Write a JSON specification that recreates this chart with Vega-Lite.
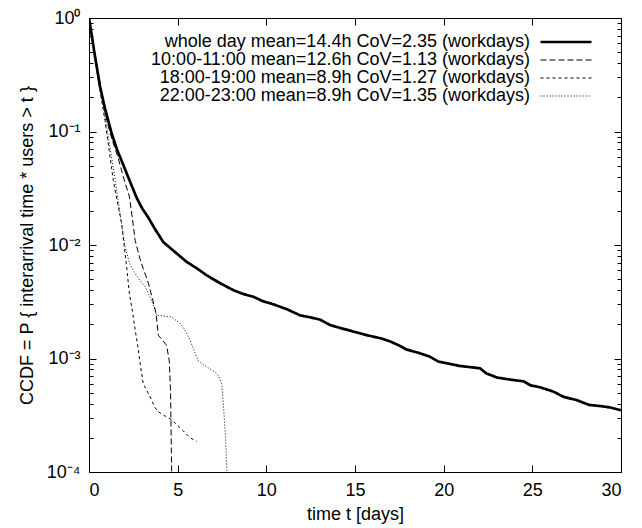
{
  "$schema": "https://vega.github.io/schema/vega-lite/v6.json",
  "width": 532,
  "height": 454,
  "autosize": "none",
  "padding": {"left": 89, "top": 18, "right": 21, "bottom": 56},
  "background": "white",
  "config": {
    "font": "Liberation Sans",
    "view": {"stroke": "black", "strokeWidth": 1},
    "axis": {"grid": false, "labelFont": "Liberation Sans", "titleFont": "Liberation Sans", "labelFontSize": 18, "titleFontSize": 18, "titleFontWeight": "normal", "labelColor": "black", "titleColor": "black", "tickColor": "black", "domainColor": "black", "tickWidth": 1, "domainWidth": 1},
    "legend": {"labelFont": "Liberation Sans", "labelFontSize": 18, "labelColor": "black", "labelLimit": 500}
  },
  "data": {"values": [
    {"series": "whole day mean=14.4h CoV=2.35 (workdays)", "t": 0, "p": 1},
    {"series": "whole day mean=14.4h CoV=2.35 (workdays)", "t": 0.1, "p": 0.8},
    {"series": "whole day mean=14.4h CoV=2.35 (workdays)", "t": 0.3, "p": 0.5},
    {"series": "whole day mean=14.4h CoV=2.35 (workdays)", "t": 0.62, "p": 0.25},
    {"series": "whole day mean=14.4h CoV=2.35 (workdays)", "t": 0.9, "p": 0.16},
    {"series": "whole day mean=14.4h CoV=2.35 (workdays)", "t": 1.28, "p": 0.096},
    {"series": "whole day mean=14.4h CoV=2.35 (workdays)", "t": 1.6, "p": 0.068},
    {"series": "whole day mean=14.4h CoV=2.35 (workdays)", "t": 1.93, "p": 0.051},
    {"series": "whole day mean=14.4h CoV=2.35 (workdays)", "t": 2.2, "p": 0.04},
    {"series": "whole day mean=14.4h CoV=2.35 (workdays)", "t": 2.69, "p": 0.026},
    {"series": "whole day mean=14.4h CoV=2.35 (workdays)", "t": 3.0, "p": 0.021},
    {"series": "whole day mean=14.4h CoV=2.35 (workdays)", "t": 3.34, "p": 0.0175},
    {"series": "whole day mean=14.4h CoV=2.35 (workdays)", "t": 3.7, "p": 0.014},
    {"series": "whole day mean=14.4h CoV=2.35 (workdays)", "t": 3.9, "p": 0.0125},
    {"series": "whole day mean=14.4h CoV=2.35 (workdays)", "t": 4.19, "p": 0.0106},
    {"series": "whole day mean=14.4h CoV=2.35 (workdays)", "t": 4.8, "p": 0.0088},
    {"series": "whole day mean=14.4h CoV=2.35 (workdays)", "t": 5.51, "p": 0.0071},
    {"series": "whole day mean=14.4h CoV=2.35 (workdays)", "t": 6.1, "p": 0.0062},
    {"series": "whole day mean=14.4h CoV=2.35 (workdays)", "t": 6.64, "p": 0.0054},
    {"series": "whole day mean=14.4h CoV=2.35 (workdays)", "t": 7.4, "p": 0.0046},
    {"series": "whole day mean=14.4h CoV=2.35 (workdays)", "t": 8.14, "p": 0.004},
    {"series": "whole day mean=14.4h CoV=2.35 (workdays)", "t": 8.7, "p": 0.0037},
    {"series": "whole day mean=14.4h CoV=2.35 (workdays)", "t": 9.27, "p": 0.0035},
    {"series": "whole day mean=14.4h CoV=2.35 (workdays)", "t": 9.8, "p": 0.0032},
    {"series": "whole day mean=14.4h CoV=2.35 (workdays)", "t": 10.4, "p": 0.003},
    {"series": "whole day mean=14.4h CoV=2.35 (workdays)", "t": 11.2, "p": 0.0027},
    {"series": "whole day mean=14.4h CoV=2.35 (workdays)", "t": 11.9, "p": 0.0024},
    {"series": "whole day mean=14.4h CoV=2.35 (workdays)", "t": 12.5, "p": 0.0023},
    {"series": "whole day mean=14.4h CoV=2.35 (workdays)", "t": 13.03, "p": 0.0022},
    {"series": "whole day mean=14.4h CoV=2.35 (workdays)", "t": 13.6, "p": 0.00197},
    {"series": "whole day mean=14.4h CoV=2.35 (workdays)", "t": 14.2, "p": 0.00185},
    {"series": "whole day mean=14.4h CoV=2.35 (workdays)", "t": 14.9, "p": 0.00173},
    {"series": "whole day mean=14.4h CoV=2.35 (workdays)", "t": 15.7, "p": 0.0016},
    {"series": "whole day mean=14.4h CoV=2.35 (workdays)", "t": 16.5, "p": 0.0015},
    {"series": "whole day mean=14.4h CoV=2.35 (workdays)", "t": 17.0, "p": 0.00141},
    {"series": "whole day mean=14.4h CoV=2.35 (workdays)", "t": 17.5, "p": 0.0013},
    {"series": "whole day mean=14.4h CoV=2.35 (workdays)", "t": 17.9, "p": 0.0012},
    {"series": "whole day mean=14.4h CoV=2.35 (workdays)", "t": 18.6, "p": 0.00112},
    {"series": "whole day mean=14.4h CoV=2.35 (workdays)", "t": 19.2, "p": 0.00104},
    {"series": "whole day mean=14.4h CoV=2.35 (workdays)", "t": 19.7, "p": 0.00094},
    {"series": "whole day mean=14.4h CoV=2.35 (workdays)", "t": 20.3, "p": 0.0009},
    {"series": "whole day mean=14.4h CoV=2.35 (workdays)", "t": 20.9, "p": 0.00086},
    {"series": "whole day mean=14.4h CoV=2.35 (workdays)", "t": 22.05, "p": 0.00082},
    {"series": "whole day mean=14.4h CoV=2.35 (workdays)", "t": 22.4, "p": 0.00074},
    {"series": "whole day mean=14.4h CoV=2.35 (workdays)", "t": 23.0, "p": 0.00068},
    {"series": "whole day mean=14.4h CoV=2.35 (workdays)", "t": 23.8, "p": 0.00065},
    {"series": "whole day mean=14.4h CoV=2.35 (workdays)", "t": 24.5, "p": 0.00063},
    {"series": "whole day mean=14.4h CoV=2.35 (workdays)", "t": 24.9, "p": 0.00058},
    {"series": "whole day mean=14.4h CoV=2.35 (workdays)", "t": 25.4, "p": 0.00056},
    {"series": "whole day mean=14.4h CoV=2.35 (workdays)", "t": 26.2, "p": 0.00051},
    {"series": "whole day mean=14.4h CoV=2.35 (workdays)", "t": 26.75, "p": 0.00046},
    {"series": "whole day mean=14.4h CoV=2.35 (workdays)", "t": 27.5, "p": 0.00043},
    {"series": "whole day mean=14.4h CoV=2.35 (workdays)", "t": 28.2, "p": 0.00039},
    {"series": "whole day mean=14.4h CoV=2.35 (workdays)", "t": 28.9, "p": 0.00038},
    {"series": "whole day mean=14.4h CoV=2.35 (workdays)", "t": 29.4, "p": 0.00037},
    {"series": "whole day mean=14.4h CoV=2.35 (workdays)", "t": 30, "p": 0.00035},
    {"series": "10:00-11:00 mean=12.6h CoV=1.13 (workdays)", "t": 0, "p": 1},
    {"series": "10:00-11:00 mean=12.6h CoV=1.13 (workdays)", "t": 0.3, "p": 0.52},
    {"series": "10:00-11:00 mean=12.6h CoV=1.13 (workdays)", "t": 0.6, "p": 0.28},
    {"series": "10:00-11:00 mean=12.6h CoV=1.13 (workdays)", "t": 1.0, "p": 0.125},
    {"series": "10:00-11:00 mean=12.6h CoV=1.13 (workdays)", "t": 1.3, "p": 0.085},
    {"series": "10:00-11:00 mean=12.6h CoV=1.13 (workdays)", "t": 1.65, "p": 0.058},
    {"series": "10:00-11:00 mean=12.6h CoV=1.13 (workdays)", "t": 1.93, "p": 0.04},
    {"series": "10:00-11:00 mean=12.6h CoV=1.13 (workdays)", "t": 2.27, "p": 0.027},
    {"series": "10:00-11:00 mean=12.6h CoV=1.13 (workdays)", "t": 2.45, "p": 0.017},
    {"series": "10:00-11:00 mean=12.6h CoV=1.13 (workdays)", "t": 2.6, "p": 0.011},
    {"series": "10:00-11:00 mean=12.6h CoV=1.13 (workdays)", "t": 2.88, "p": 0.0075},
    {"series": "10:00-11:00 mean=12.6h CoV=1.13 (workdays)", "t": 3.06, "p": 0.0062},
    {"series": "10:00-11:00 mean=12.6h CoV=1.13 (workdays)", "t": 3.35, "p": 0.0046},
    {"series": "10:00-11:00 mean=12.6h CoV=1.13 (workdays)", "t": 3.55, "p": 0.0035},
    {"series": "10:00-11:00 mean=12.6h CoV=1.13 (workdays)", "t": 3.78, "p": 0.0025},
    {"series": "10:00-11:00 mean=12.6h CoV=1.13 (workdays)", "t": 3.91, "p": 0.0016},
    {"series": "10:00-11:00 mean=12.6h CoV=1.13 (workdays)", "t": 4.15, "p": 0.00145},
    {"series": "10:00-11:00 mean=12.6h CoV=1.13 (workdays)", "t": 4.38, "p": 0.0013},
    {"series": "10:00-11:00 mean=12.6h CoV=1.13 (workdays)", "t": 4.53, "p": 0.00094},
    {"series": "10:00-11:00 mean=12.6h CoV=1.13 (workdays)", "t": 4.6, "p": 0.0005},
    {"series": "10:00-11:00 mean=12.6h CoV=1.13 (workdays)", "t": 4.66, "p": 0.0001},
    {"series": "18:00-19:00 mean=8.9h CoV=1.27 (workdays)", "t": 0, "p": 1},
    {"series": "18:00-19:00 mean=8.9h CoV=1.27 (workdays)", "t": 0.3, "p": 0.48},
    {"series": "18:00-19:00 mean=8.9h CoV=1.27 (workdays)", "t": 0.6, "p": 0.24},
    {"series": "18:00-19:00 mean=8.9h CoV=1.27 (workdays)", "t": 0.9, "p": 0.125},
    {"series": "18:00-19:00 mean=8.9h CoV=1.27 (workdays)", "t": 1.1, "p": 0.075},
    {"series": "18:00-19:00 mean=8.9h CoV=1.27 (workdays)", "t": 1.37, "p": 0.037},
    {"series": "18:00-19:00 mean=8.9h CoV=1.27 (workdays)", "t": 1.6, "p": 0.024},
    {"series": "18:00-19:00 mean=8.9h CoV=1.27 (workdays)", "t": 1.84, "p": 0.0155},
    {"series": "18:00-19:00 mean=8.9h CoV=1.27 (workdays)", "t": 2.12, "p": 0.0065},
    {"series": "18:00-19:00 mean=8.9h CoV=1.27 (workdays)", "t": 2.27, "p": 0.0038},
    {"series": "18:00-19:00 mean=8.9h CoV=1.27 (workdays)", "t": 2.45, "p": 0.0026},
    {"series": "18:00-19:00 mean=8.9h CoV=1.27 (workdays)", "t": 2.6, "p": 0.0018},
    {"series": "18:00-19:00 mean=8.9h CoV=1.27 (workdays)", "t": 2.78, "p": 0.0012},
    {"series": "18:00-19:00 mean=8.9h CoV=1.27 (workdays)", "t": 2.88, "p": 0.00091},
    {"series": "18:00-19:00 mean=8.9h CoV=1.27 (workdays)", "t": 3.06, "p": 0.0006},
    {"series": "18:00-19:00 mean=8.9h CoV=1.27 (workdays)", "t": 3.44, "p": 0.00046},
    {"series": "18:00-19:00 mean=8.9h CoV=1.27 (workdays)", "t": 3.72, "p": 0.00037},
    {"series": "18:00-19:00 mean=8.9h CoV=1.27 (workdays)", "t": 3.9, "p": 0.00034},
    {"series": "18:00-19:00 mean=8.9h CoV=1.27 (workdays)", "t": 4.3, "p": 0.00031},
    {"series": "18:00-19:00 mean=8.9h CoV=1.27 (workdays)", "t": 4.66, "p": 0.00029},
    {"series": "18:00-19:00 mean=8.9h CoV=1.27 (workdays)", "t": 5.32, "p": 0.00023},
    {"series": "18:00-19:00 mean=8.9h CoV=1.27 (workdays)", "t": 5.7, "p": 0.0002},
    {"series": "18:00-19:00 mean=8.9h CoV=1.27 (workdays)", "t": 6.07, "p": 0.000186},
    {"series": "22:00-23:00 mean=8.9h CoV=1.35 (workdays)", "t": 0, "p": 1},
    {"series": "22:00-23:00 mean=8.9h CoV=1.35 (workdays)", "t": 0.3, "p": 0.5},
    {"series": "22:00-23:00 mean=8.9h CoV=1.35 (workdays)", "t": 0.6, "p": 0.26},
    {"series": "22:00-23:00 mean=8.9h CoV=1.35 (workdays)", "t": 0.9, "p": 0.135},
    {"series": "22:00-23:00 mean=8.9h CoV=1.35 (workdays)", "t": 1.2, "p": 0.07},
    {"series": "22:00-23:00 mean=8.9h CoV=1.35 (workdays)", "t": 1.45, "p": 0.04},
    {"series": "22:00-23:00 mean=8.9h CoV=1.35 (workdays)", "t": 1.75, "p": 0.019},
    {"series": "22:00-23:00 mean=8.9h CoV=1.35 (workdays)", "t": 2.03, "p": 0.0097},
    {"series": "22:00-23:00 mean=8.9h CoV=1.35 (workdays)", "t": 2.3, "p": 0.0068},
    {"series": "22:00-23:00 mean=8.9h CoV=1.35 (workdays)", "t": 2.6, "p": 0.0056},
    {"series": "22:00-23:00 mean=8.9h CoV=1.35 (workdays)", "t": 2.9, "p": 0.0048},
    {"series": "22:00-23:00 mean=8.9h CoV=1.35 (workdays)", "t": 3.16, "p": 0.0043},
    {"series": "22:00-23:00 mean=8.9h CoV=1.35 (workdays)", "t": 3.44, "p": 0.0035},
    {"series": "22:00-23:00 mean=8.9h CoV=1.35 (workdays)", "t": 3.65, "p": 0.0029},
    {"series": "22:00-23:00 mean=8.9h CoV=1.35 (workdays)", "t": 3.82, "p": 0.0024},
    {"series": "22:00-23:00 mean=8.9h CoV=1.35 (workdays)", "t": 4.3, "p": 0.00236},
    {"series": "22:00-23:00 mean=8.9h CoV=1.35 (workdays)", "t": 4.66, "p": 0.00232},
    {"series": "22:00-23:00 mean=8.9h CoV=1.35 (workdays)", "t": 5.13, "p": 0.00204},
    {"series": "22:00-23:00 mean=8.9h CoV=1.35 (workdays)", "t": 5.4, "p": 0.0018},
    {"series": "22:00-23:00 mean=8.9h CoV=1.35 (workdays)", "t": 5.7, "p": 0.00145},
    {"series": "22:00-23:00 mean=8.9h CoV=1.35 (workdays)", "t": 6.0, "p": 0.0011},
    {"series": "22:00-23:00 mean=8.9h CoV=1.35 (workdays)", "t": 6.17, "p": 0.00095},
    {"series": "22:00-23:00 mean=8.9h CoV=1.35 (workdays)", "t": 6.6, "p": 0.00085},
    {"series": "22:00-23:00 mean=8.9h CoV=1.35 (workdays)", "t": 7.1, "p": 0.00076},
    {"series": "22:00-23:00 mean=8.9h CoV=1.35 (workdays)", "t": 7.3, "p": 0.0007},
    {"series": "22:00-23:00 mean=8.9h CoV=1.35 (workdays)", "t": 7.48, "p": 0.0006},
    {"series": "22:00-23:00 mean=8.9h CoV=1.35 (workdays)", "t": 7.55, "p": 0.00045},
    {"series": "22:00-23:00 mean=8.9h CoV=1.35 (workdays)", "t": 7.61, "p": 0.00033},
    {"series": "22:00-23:00 mean=8.9h CoV=1.35 (workdays)", "t": 7.7, "p": 0.0002},
    {"series": "22:00-23:00 mean=8.9h CoV=1.35 (workdays)", "t": 7.78, "p": 0.0001}
  ]},
  "layer": [
    {
      "mark": {"type": "line", "clip": true, "color": "black"},
      "encoding": {
        "x": {"field": "t", "type": "quantitative", "scale": {"domain": [0, 30], "nice": false, "zero": false},
          "axis": {"orient": "bottom", "values": [0, 5, 10, 15, 20, 25, 30], "tickSize": -7, "labelPadding": 16, "title": "time t [days]", "titlePadding": 6}},
        "y": {"field": "p", "type": "quantitative", "scale": {"type": "log", "domain": [0.0001, 1], "nice": false},
          "axis": {"orient": "left", "values": [0.0001, 0.001, 0.01, 0.1, 1], "tickSize": -7, "labelPadding": 16,
            "labelExpr": "'10' + ['⁰','⁻¹','⁻²','⁻³','⁻⁴'][round(-log(datum.value)/LN10)]",
            "title": "CCDF = P { interarrival time * users > t }", "titlePadding": 10}},
        "strokeDash": {"field": "series", "type": "nominal",
          "scale": {"domain": ["whole day mean=14.4h CoV=2.35 (workdays)", "10:00-11:00 mean=12.6h CoV=1.13 (workdays)", "18:00-19:00 mean=8.9h CoV=1.27 (workdays)", "22:00-23:00 mean=8.9h CoV=1.35 (workdays)"],
            "range": [[1, 0], [6, 3], [3, 3], [1, 2]]},
          "legend": {"orient": "none", "legendX": 468, "legendY": 15, "title": null, "symbolType": "M-5.1,0H5.1", "symbolSize": 100, "symbolStrokeColor": "black", "symbolFillColor": "transparent", "symbolOpacity": 1, "labelAlign": "right", "labelOffset": -45, "rowPadding": 0, "padding": 0}},
        "strokeWidth": {"field": "series", "type": "nominal",
          "scale": {"type": "ordinal", "domain": ["whole day mean=14.4h CoV=2.35 (workdays)", "10:00-11:00 mean=12.6h CoV=1.13 (workdays)", "18:00-19:00 mean=8.9h CoV=1.27 (workdays)", "22:00-23:00 mean=8.9h CoV=1.35 (workdays)"],
            "range": [2.7, 1, 1, 1]},
          "legend": {"orient": "none", "legendX": 468, "legendY": 15, "title": null, "symbolType": "M-5.1,0H5.1", "symbolSize": 100, "symbolStrokeColor": "black", "symbolFillColor": "transparent", "symbolOpacity": 1, "labelAlign": "right", "labelOffset": -45, "rowPadding": 0, "padding": 0}}
      }
    },
    {
      "mark": {"type": "point", "opacity": 0},
      "encoding": {
        "x": {"field": "t", "type": "quantitative", "axis": {"orient": "top", "values": [5, 10, 15, 20, 25], "tickSize": -7, "labels": false, "title": null}},
        "y": {"field": "p", "type": "quantitative", "axis": {"orient": "right", "values": [0.0001, 0.001, 0.01, 0.1, 1], "tickSize": -7, "labels": false, "title": null}}
      }
    },
    {
      "mark": {"type": "point", "opacity": 0},
      "encoding": {
        "x": {"field": "t", "type": "quantitative", "axis": null},
        "y": {"field": "p", "type": "quantitative", "axis": {"orient": "left", "domain": false, "values": [0.0002, 0.0003, 0.0004, 0.0005, 0.0006, 0.0007, 0.0008, 0.0009, 0.002, 0.003, 0.004, 0.005, 0.006, 0.007, 0.008, 0.009, 0.02, 0.03, 0.04, 0.05, 0.06, 0.07, 0.08, 0.09, 0.2, 0.3, 0.4, 0.5, 0.6, 0.7, 0.8, 0.9], "tickSize": -4, "labels": false, "title": null}}
      }
    },
    {
      "mark": {"type": "point", "opacity": 0},
      "encoding": {
        "x": {"field": "t", "type": "quantitative", "axis": null},
        "y": {"field": "p", "type": "quantitative", "axis": {"orient": "right", "domain": false, "values": [0.0002, 0.0003, 0.0004, 0.0005, 0.0006, 0.0007, 0.0008, 0.0009, 0.002, 0.003, 0.004, 0.005, 0.006, 0.007, 0.008, 0.009, 0.02, 0.03, 0.04, 0.05, 0.06, 0.07, 0.08, 0.09, 0.2, 0.3, 0.4, 0.5, 0.6, 0.7, 0.8, 0.9], "tickSize": -4, "labels": false, "title": null}}
      }
    }
  ],
  "resolve": {"scale": {"x": "shared", "y": "shared"}, "axis": {"x": "independent", "y": "independent"}}
}
